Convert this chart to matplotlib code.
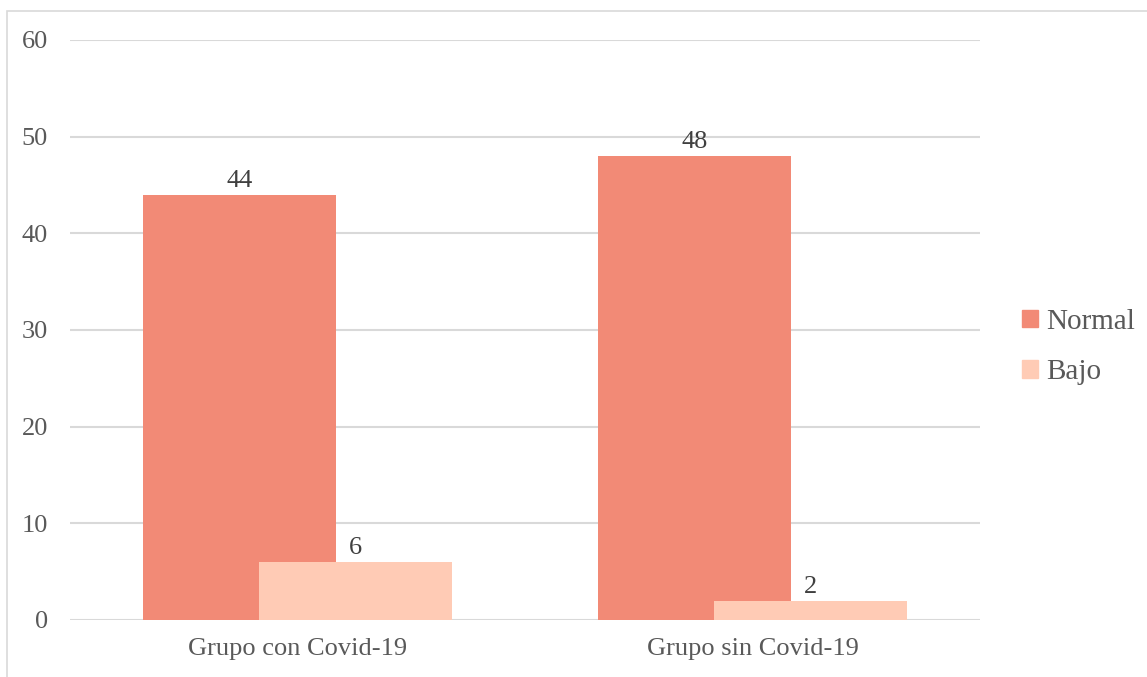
import matplotlib.pyplot as plt
from matplotlib.patches import Rectangle, Patch
import numpy as np

# datos por grupo
grupos = ["Grupo con Covid-19", "Grupo sin Covid-19"]
normal = [44, 48]
bajo = [6, 2]
series = ["Normal", "Bajo"]
colores = ["#F28A76", "#FFCBB5"]

plt.rcParams["font.family"] = ["Liberation Serif", "DejaVu Serif"]
gris = "#595959"

fig = plt.figure(figsize=(11.47, 6.77), dpi=100)
W, H = 1147, 677
# marco del grafico
fig.patches.append(Rectangle((7 / W, -0.1), 1.2, (677 - 11) / H + 0.1,
                             transform=fig.transFigure, fill=False,
                             edgecolor="#D9D9D9", linewidth=1.2))

ax = fig.add_axes([70 / W, (677 - 620) / H, 910 / W, 580 / H])

x = np.arange(len(grupos))
ancho = 0.426
desp = 0.1275
b1 = ax.bar(x - desp, normal, ancho, color=colores[0], label=series[0], zorder=2)
b2 = ax.bar(x + desp, bajo, ancho, color=colores[1], label=series[1], zorder=3)

for barras in (b1, b2):
    for r in barras:
        v = r.get_height()
        ax.annotate(f"{v:g}", (r.get_x() + r.get_width() / 2, v),
                    xytext=(0, 2), textcoords="offset points",
                    ha="center", va="bottom", fontsize=19, color="#404040", zorder=4)

ax.set_xlim(-0.5, 1.5)
ax.set_ylim(0, 60)
ax.set_yticks(range(0, 61, 10))
ax.set_xticks(x)
ax.set_xticklabels(grupos)
ax.yaxis.grid(True, color="#D9D9D9", linewidth=1.5, zorder=0)
ax.set_axisbelow(True)
for s in ax.spines.values():
    s.set_visible(False)
ax.tick_params(axis="both", length=0, labelsize=19, labelcolor=gris)
ax.tick_params(axis="y", pad=16)
ax.tick_params(axis="x", pad=13)

handles = [Patch(color=c, label=l) for c, l in zip(colores, series)]
ax.legend(handles=handles, loc="center left", bbox_to_anchor=(1010 / W, (677 - 347) / H),
          bbox_transform=fig.transFigure, frameon=False, fontsize=21,
          labelcolor=gris, handlelength=0.55, handleheight=0.55,
          handletextpad=0.3, labelspacing=0.85, borderaxespad=0)

fig.savefig("out.png", dpi=100)
